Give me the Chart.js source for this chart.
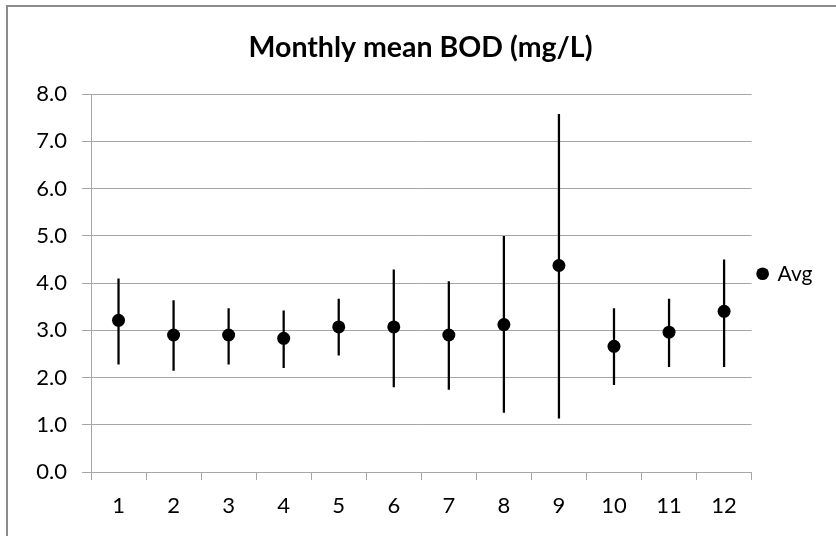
<!DOCTYPE html>
<html>
<head>
<meta charset="utf-8">
<script src="https://cdn.jsdelivr.net/npm/chart.js@4.4.1/dist/chart.umd.min.js"></script>
<style>
    body { margin: 0; background: #fff; }
    #wrap { position: relative; width: 836px; height: 536px; overflow: hidden; }
    #frame { position: absolute; left: 6px; top: 5px; width: 900px; height: 600px; border: 2px solid #8c8c8c; box-sizing: border-box; }
    canvas { position: absolute; left: 0; top: 0; }
</style>
</head>
<body>
<div id="wrap">
    <div id="frame"></div>
    <canvas id="bodChart" width="836" height="536"></canvas>
</div>
<script>
const months = ['1', '2', '3', '4', '5', '6', '7', '8', '9', '10', '11', '12'];
const avgBod = [3.21, 2.90, 2.90, 2.83, 3.07, 3.07, 2.90, 3.12, 4.37, 2.66, 2.96, 3.40];
const upperBod = [4.09, 3.63, 3.46, 3.41, 3.66, 4.28, 4.03, 4.99, 7.57, 3.46, 3.66, 4.49];
const lowerBod = [2.28, 2.15, 2.28, 2.21, 2.47, 1.80, 1.75, 1.26, 1.14, 1.85, 2.23, 2.23];
const yTicks = [0, 1, 2, 3, 4, 5, 6, 7, 8];

const gridGray = '#a6a6a6';
const font = 'Lato';
const padLeft = 18.5;

// error bars as thin floating bars
const ranges = months.map((m, i) => [lowerBod[i], upperBod[i]]);

new Chart(document.getElementById('bodChart'), {
    data: {
        labels: months,
        datasets: [
            {
                type: 'line',
                label: 'Avg',
                data: avgBod,
                showLine: false,
                pointRadius: 6.5,
                pointHoverRadius: 6.5,
                pointBackgroundColor: '#000',
                pointBorderColor: '#000',
                backgroundColor: '#000',
                borderColor: '#000',
                pointBorderWidth: 0,
                order: 0
            },
            {
                type: 'bar',
                label: 'range',
                data: ranges,
                backgroundColor: '#000',
                barThickness: 1.6,
                order: 1
            }
        ]
    },
    options: {
        responsive: false,
        animation: false,
        layout: { padding: { left: padLeft, right: 13.5, top: 0, bottom: 0 } },
        plugins: {
            title: {
                display: true,
                text: 'Monthly mean BOD (mg/L)',
                color: '#000',
                font: { family: font, size: 28.5, weight: 'bold' },
                padding: { top: 30.5, bottom: 29.3 }
            },
            legend: {
                position: 'right',
                title: { display: true, text: '', padding: 0, font: { size: 9.2, lineHeight: 1.25 } },
                labels: {
                    usePointStyle: true,
                    pointStyle: 'circle',
                    boxWidth: 9,
                    boxHeight: 9,
                    padding: 6.5,
                    color: '#000',
                    font: { family: font, size: 21 },
                    filter: item => item.text === 'Avg'
                }
            },
            tooltip: { enabled: false }
        },
        scales: {
            x: {
                offset: true,
                grid: {
                    offset: true,
                    drawOnChartArea: false,
                    color: gridGray,
                    tickLength: 8
                },
                border: { color: gridGray },
                ticks: {
                    color: '#000',
                    padding: 13,
                    maxRotation: 0,
                    font: { family: font, size: 22 }
                },
                afterFit: scale => { scale.height = 64; }
            },
            y: {
                min: 0,
                max: 8,
                afterBuildTicks: scale => { scale.ticks = yTicks.map(v => ({ value: v })); },
                grid: { color: gridGray, tickLength: 9 },
                border: { color: gridGray },
                ticks: {
                    color: '#000',
                    padding: 15,
                    font: { family: font, size: 22 },
                    callback: v => v.toFixed(1)
                },
                afterFit: scale => { scale.width = 91 - padLeft; }
            }
        }
    }
});
</script>
</body>
</html>
